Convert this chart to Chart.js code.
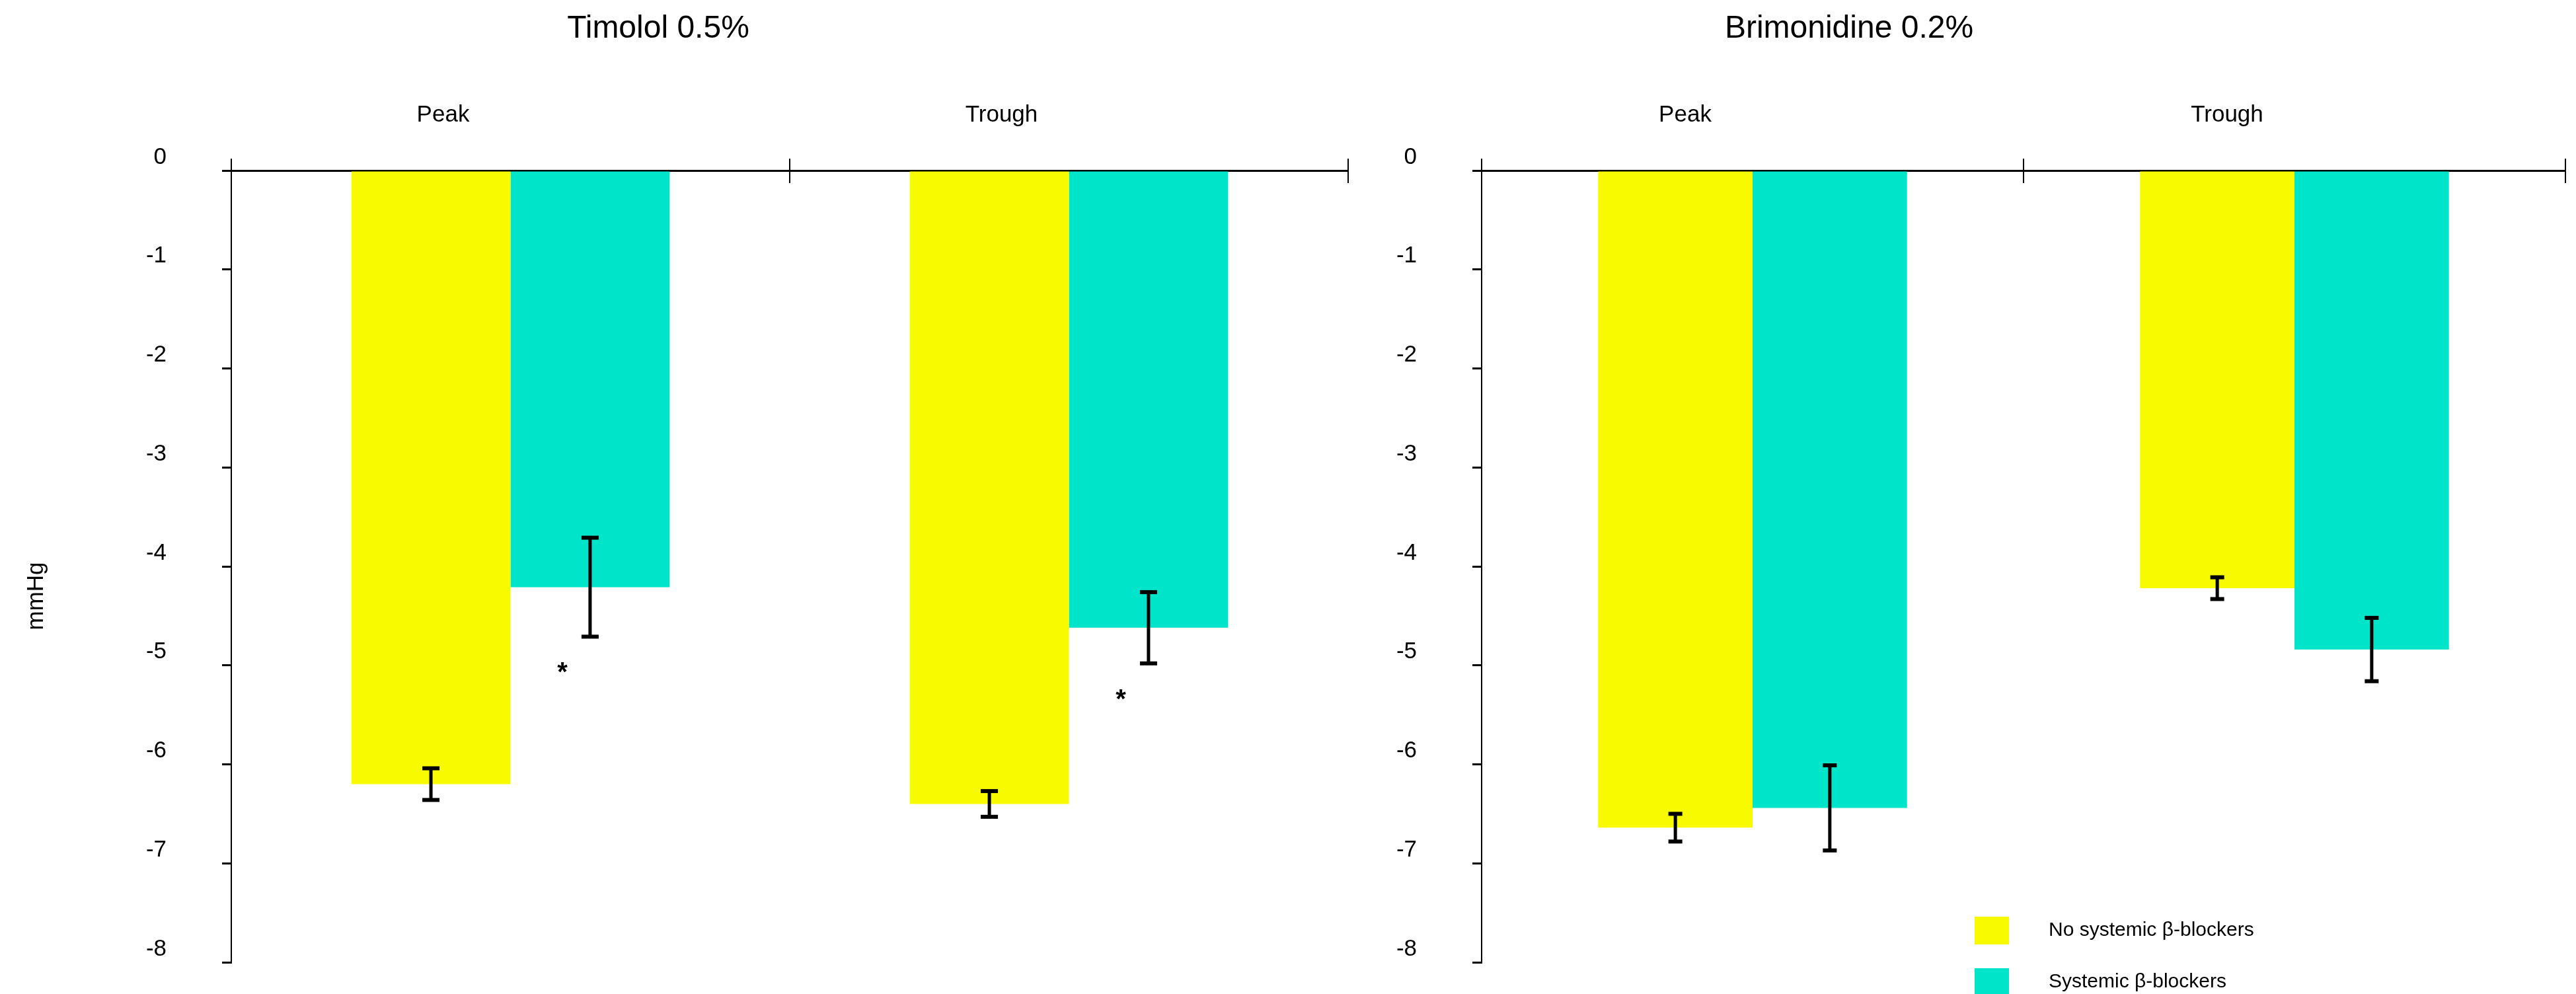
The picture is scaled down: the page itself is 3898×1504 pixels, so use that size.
<!DOCTYPE html>
<html>
<head>
<meta charset="utf-8">
<title>IOP reduction by systemic β-blocker use</title>
<script src="https://cdn.jsdelivr.net/npm/chart.js@4/dist/chart.umd.min.js"></script>
<style>
  html, body { margin: 0; padding: 0; background: #fff; width: 3898px; height: 1504px; overflow: hidden; }
  canvas { position: absolute; top: 0; }
  #timolol { left: 0; }
  #brimonidine { left: 2100px; }
</style>
</head>
<body>
<canvas id="timolol" width="2100" height="1504"></canvas>
<canvas id="brimonidine" width="1798" height="1504"></canvas>
<script>
// ---- data ----
const timepoints = ['Peak', 'Trough'];
const yTickLabels = ['0', '-1', '-2', '-3', '-4', '-5', '-6', '-7', '-8'];
const seriesNames = ['No systemic β-blockers', 'Systemic β-blockers'];

// Timolol 0.5%: mean IOP change (mmHg) and its error
const timololNoBB = [-6.20, -6.40];
const timololNoBBErr = [0.16, 0.13];
const timololBB = [-4.21, -4.62];
const timololBBErr = [0.50, 0.36];
const timololSignif = ['*', '*'];

// Brimonidine 0.2%
const brimNoBB = [-6.64, -4.22];
const brimNoBBErr = [0.14, 0.11];
const brimBB = [-6.44, -4.84];
const brimBBErr = [0.43, 0.32];
const brimSignif = ['', ''];

const seriesColours = ['#F8FB00', '#00E5C9'];

// ---- styling ----
const FONT = '"Liberation Sans", Arial, Helvetica, sans-serif';
Chart.defaults.font.family = FONT;
Chart.defaults.color = '#000';

// Error bars: a vertical stem with flat caps at mean ± error
const errorBars = {
  id: 'errorBars',
  afterDatasetsDraw(chart, args, o) {
    const { ctx } = chart;
    const y = chart.scales.y;
    ctx.save();
    ctx.fillStyle = o.color;
    chart.data.datasets.forEach((ds, di) => {
      const meta = chart.getDatasetMeta(di);
      meta.data.forEach((bar, i) => {
        const v = ds.data[i], e = ds.errors[i];
        const top = y.getPixelForValue(v + e);
        const bot = y.getPixelForValue(v - e);
        ctx.fillRect(bar.x - o.lineWidth / 2, top, o.lineWidth, bot - top);
        ctx.fillRect(bar.x - o.capWidth / 2, top - o.capHeight / 2, o.capWidth, o.capHeight);
        ctx.fillRect(bar.x - o.capWidth / 2, bot - o.capHeight / 2, o.capWidth, o.capHeight);
      });
    });
    ctx.restore();
  }
};

// Significance asterisks placed under the lower end of the error bar
const signifMarks = {
  id: 'signifMarks',
  afterDatasetsDraw(chart, args, o) {
    const { ctx } = chart;
    const y = chart.scales.y;
    ctx.save();
    ctx.font = o.font;
    ctx.fillStyle = '#000';
    ctx.textAlign = 'center';
    ctx.textBaseline = 'alphabetic';
    chart.data.datasets.forEach((ds, di) => {
      if (!ds.marks) return;
      const meta = chart.getDatasetMeta(di);
      meta.data.forEach((bar, i) => {
        const mark = ds.marks[i];
        if (!mark) return;
        const cy = y.getPixelForValue(ds.data[i] - ds.errors[i]) + o.dy;
        const m = ctx.measureText(mark);
        const base = cy + (m.actualBoundingBoxAscent - m.actualBoundingBoxDescent) / 2;
        ctx.fillText(mark, bar.x + o.dx, base);
      });
    });
    ctx.restore();
  }
};

// Category boundary ticks that cross the zero line, plus the y axis stub above it
const crossTicks = {
  id: 'crossTicks',
  afterDraw(chart, args, o) {
    const { ctx } = chart;
    const x = chart.scales.x;
    const y0 = chart.chartArea.top;
    const n = chart.data.labels.length;
    ctx.save();
    ctx.fillStyle = '#000';
    for (let i = 0; i <= n; i++) {
      const px = x.left + i * (x.width / n);
      ctx.fillRect(px - o.width / 2, y0 - o.up, o.width, o.up + o.down);
    }
    ctx.restore();
  }
};

// Panel title and (optional) rotated axis unit
const panelText = {
  id: 'panelText',
  afterDraw(chart, args, o) {
    const { ctx } = chart;
    ctx.save();
    ctx.fillStyle = '#000';
    ctx.font = o.titleFont;
    ctx.textAlign = 'center';
    ctx.textBaseline = 'alphabetic';
    ctx.fillText(o.title, o.titleX, o.titleY);
    if (o.unit) {
      ctx.font = o.unitFont;
      ctx.translate(o.unitX, o.unitY);
      ctx.rotate(-Math.PI / 2);
      ctx.textBaseline = 'middle';
      ctx.fillText(o.unit, 0, 0);
    }
    ctx.restore();
  }
};

// Stacked legend with square swatches
const boxLegend = {
  id: 'boxLegend',
  afterDraw(chart, args, o) {
    if (!o.show) return;
    const { ctx } = chart;
    ctx.save();
    ctx.font = o.font;
    ctx.textAlign = 'left';
    ctx.textBaseline = 'middle';
    chart.data.datasets.forEach((ds, i) => {
      const top = o.y + i * o.rowGap;
      ctx.fillStyle = ds.backgroundColor;
      ctx.fillRect(o.x, top, o.boxW, o.boxH);
      ctx.fillStyle = '#000';
      ctx.fillText(ds.label, o.textX, top + o.boxH / 2);
    });
    ctx.restore();
  }
};

function makePanel(canvasId, cfg) {
  return new Chart(document.getElementById(canvasId), {
    type: 'bar',
    data: {
      labels: timepoints,
      datasets: [
        { label: seriesNames[0], data: cfg.noBB, errors: cfg.noBBErr,
          backgroundColor: seriesColours[0], borderWidth: 0,
          barPercentage: 1.0, categoryPercentage: 0.57 },
        { label: seriesNames[1], data: cfg.bb, errors: cfg.bbErr, marks: cfg.signif,
          backgroundColor: seriesColours[1], borderWidth: 0,
          barPercentage: 1.0, categoryPercentage: 0.57 }
      ]
    },
    options: {
      responsive: false,
      animation: false,
      events: [],
      layout: { padding: { left: 0, right: cfg.padRight, top: 0, bottom: 48 } },
      plugins: {
        legend: { display: false },
        title: { display: false },
        tooltip: { enabled: false },
        errorBars: { color: '#000', lineWidth: 5, capWidth: cfg.capWidth, capHeight: 6 },
        signifMarks: { font: 'bold 40px ' + FONT, dx: -42, dy: 47 },
        crossTicks: { width: 2, up: 18, down: 19 },
        panelText: {
          title: cfg.title, titleFont: '48px ' + FONT, titleX: cfg.titleX, titleY: 57,
          unit: cfg.unit, unitFont: '35px ' + FONT, unitX: 55, unitY: 902
        },
        boxLegend: {
          show: cfg.legend, font: '30px ' + FONT,
          x: 888, y: 1387, boxW: 52, boxH: 42, rowGap: 78, textX: 1000
        }
      },
      scales: {
        x: {
          position: 'top',
          offset: true,
          afterFit(s) { s.height = 258; },
          ticks: { font: { size: 35 }, color: '#000', padding: 63, labelOffset: -102,
                   maxRotation: 0, autoSkip: false },
          grid: { display: false, drawTicks: false },
          border: { display: true, color: '#000', width: 3 }
        },
        y: {
          min: -8, max: 0,
          afterFit(s) {
            s.width = cfg.yAxisWidth;
            // labels sit beside the axis; they need no extra room above or below it
            s.paddingTop = 0;
            s.paddingBottom = 0;
          },
          afterBuildTicks(s) {
            s.ticks = yTickLabels.map(Number).sort((a, b) => a - b).map(v => ({ value: v }));
          },
          ticks: {
            font: { size: 35 }, color: '#000', padding: 84, labelOffset: -20,
            callback: (v) => yTickLabels.find(t => Number(t) === v)
          },
          grid: { drawOnChartArea: false, drawTicks: true, tickLength: 14,
                  color: '#000', lineWidth: 3 },
          border: { display: true, color: '#000', width: 2 }
        }
      }
    },
    plugins: [errorBars, signifMarks, crossTicks, panelText, boxLegend]
  });
}

makePanel('timolol', {
  title: 'Timolol 0.5%', titleX: 996, unit: 'mmHg',
  noBB: timololNoBB, noBBErr: timololNoBBErr, bb: timololBB, bbErr: timololBBErr,
  signif: timololSignif, capWidth: 26, yAxisWidth: 350, padRight: 60, legend: false
});

makePanel('brimonidine', {
  title: 'Brimonidine 0.2%', titleX: 698, unit: '',
  noBB: brimNoBB, noBBErr: brimNoBBErr, bb: brimBB, bbErr: brimBBErr,
  signif: brimSignif, capWidth: 21, yAxisWidth: 142, padRight: 16, legend: true
});
</script>
</body>
</html>
